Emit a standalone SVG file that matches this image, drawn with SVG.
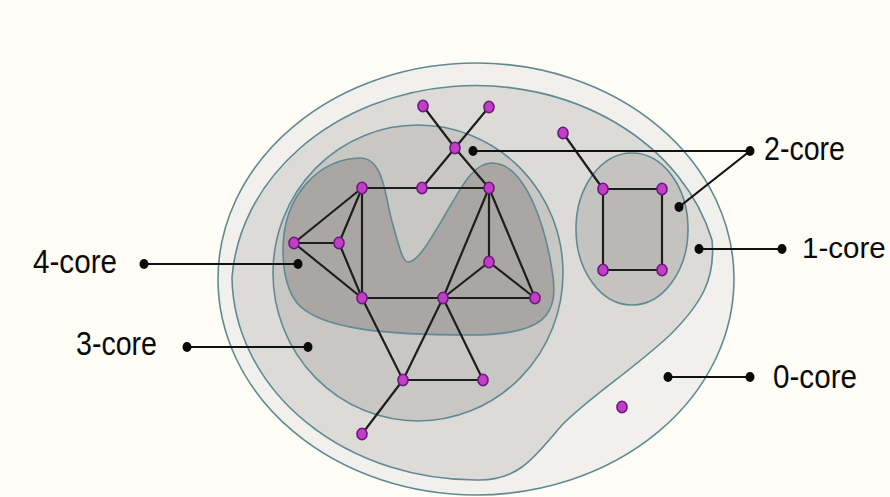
<svg xmlns="http://www.w3.org/2000/svg" width="890" height="497" viewBox="0 0 890 497">
<defs>
<style>
.region{stroke:#5f8a93;stroke-width:1.6}
.edge{stroke:#1e1e1e;stroke-width:2.2;fill:none;stroke-linecap:round}
.lead{stroke:#111;stroke-width:2.2;fill:none}
.dot{fill:#0a0a0a}
.node{fill:#c23ec4;stroke:#6b1b7d;stroke-width:1.6}
.lbl{font-family:"Liberation Sans",Arial,sans-serif;font-size:33px;fill:#0a0a0a}
</style>
</defs>
<rect width="890" height="497" fill="#fffdf5"/>
<g id="regions">
<ellipse class="region" cx="476" cy="279" rx="258" ry="216" fill="#f1f0ec"/>
<path id="core1" class="region" fill="#dcdbd8" d="M232,278 A244,205 0 0 1 712,240 C716,280 700,305 670,335 C630,372 592,395 562,425 C536,455 520,480 480,480 A244,205 0 0 1 232,278 Z"/>
<ellipse id="core3" class="region" cx="418" cy="273" rx="145" ry="148" fill="#c9c7c4"/>
<path id="core4" class="region" fill="#a9a6a3" d="M283,250 C283,195 320,158 360,158 C385,158 385,200 393,225 C400,250 403,262 408,262 C418,262 430,240 445,215 C460,190 472,163 492,163 C525,163 545,225 552,270 C560,315 545,335 470,335 C390,335 320,330 297,303 C287,290 283,272 283,250 Z"/>
<ellipse id="core2" class="region" cx="632" cy="229" rx="56" ry="76" fill="#c4c3c0"/>
<rect x="603" y="189" width="59" height="81" fill="#bab8b5"/>
</g>
<g id="connectors">
<line class="edge" x1="423" y1="106" x2="455" y2="148"/>
<line class="edge" x1="489" y1="107" x2="455" y2="148"/>
<line class="edge" x1="455" y1="148" x2="422" y2="188"/>
<line class="edge" x1="455" y1="148" x2="489" y2="188"/>
<line class="edge" x1="362" y1="188" x2="422" y2="188"/>
<line class="edge" x1="422" y1="188" x2="489" y2="188"/>
<line class="edge" x1="362" y1="188" x2="294" y2="243"/>
<line class="edge" x1="362" y1="188" x2="339" y2="243"/>
<line class="edge" x1="294" y1="243" x2="339" y2="243"/>
<line class="edge" x1="294" y1="243" x2="362" y2="298"/>
<line class="edge" x1="339" y1="243" x2="362" y2="298"/>
<line class="edge" x1="362" y1="188" x2="362" y2="298"/>
<line class="edge" x1="489" y1="188" x2="489" y2="262"/>
<line class="edge" x1="489" y1="188" x2="443" y2="298"/>
<line class="edge" x1="489" y1="188" x2="535" y2="298"/>
<line class="edge" x1="489" y1="262" x2="443" y2="298"/>
<line class="edge" x1="489" y1="262" x2="535" y2="298"/>
<line class="edge" x1="362" y1="298" x2="443" y2="298"/>
<line class="edge" x1="443" y1="298" x2="535" y2="298"/>
<line class="edge" x1="362" y1="298" x2="403" y2="380"/>
<line class="edge" x1="443" y1="298" x2="403" y2="380"/>
<line class="edge" x1="443" y1="298" x2="483" y2="380"/>
<line class="edge" x1="403" y1="380" x2="483" y2="380"/>
<line class="edge" x1="403" y1="380" x2="362" y2="434"/>
<line class="edge" x1="563" y1="133" x2="603" y2="189"/>
<line class="edge" x1="603" y1="189" x2="662" y2="189"/>
<line class="edge" x1="662" y1="189" x2="662" y2="270"/>
<line class="edge" x1="662" y1="270" x2="603" y2="270"/>
<line class="edge" x1="603" y1="270" x2="603" y2="189"/>
</g>
<g id="nodes">
<g id="nA"><ellipse class="node" cx="423" cy="106" rx="5" ry="5.8"/></g>
<g id="nB"><ellipse class="node" cx="489" cy="107" rx="5" ry="5.8"/></g>
<g id="nC"><ellipse class="node" cx="455" cy="148" rx="5" ry="5.8"/></g>
<g id="nD"><ellipse class="node" cx="362" cy="188" rx="5" ry="5.8"/></g>
<g id="nE"><ellipse class="node" cx="422" cy="188" rx="5" ry="5.8"/></g>
<g id="nF"><ellipse class="node" cx="489" cy="188" rx="5" ry="5.8"/></g>
<g id="nG"><ellipse class="node" cx="294" cy="243" rx="5" ry="5.8"/></g>
<g id="nH"><ellipse class="node" cx="339" cy="243" rx="5" ry="5.8"/></g>
<g id="nI"><ellipse class="node" cx="489" cy="262" rx="5" ry="5.8"/></g>
<g id="nJ"><ellipse class="node" cx="362" cy="298" rx="5" ry="5.8"/></g>
<g id="nK"><ellipse class="node" cx="443" cy="298" rx="5" ry="5.8"/></g>
<g id="nL"><ellipse class="node" cx="535" cy="298" rx="5" ry="5.8"/></g>
<g id="nM"><ellipse class="node" cx="403" cy="380" rx="5" ry="5.8"/></g>
<g id="nN"><ellipse class="node" cx="483" cy="380" rx="5" ry="5.8"/></g>
<g id="nO"><ellipse class="node" cx="362" cy="434" rx="5" ry="5.8"/></g>
<g id="nP"><ellipse class="node" cx="563" cy="133" rx="5" ry="5.8"/></g>
<g id="nQ1"><ellipse class="node" cx="603" cy="189" rx="5" ry="5.8"/></g>
<g id="nQ2"><ellipse class="node" cx="662" cy="189" rx="5" ry="5.8"/></g>
<g id="nQ3"><ellipse class="node" cx="603" cy="270" rx="5" ry="5.8"/></g>
<g id="nQ4"><ellipse class="node" cx="662" cy="270" rx="5" ry="5.8"/></g>
<g id="nZ"><ellipse class="node" cx="622" cy="407" rx="5" ry="5.8"/></g>
</g>
<g id="label-4core">
<line class="lead" x1="144" y1="264" x2="298" y2="264"/>
<ellipse class="dot" cx="144" cy="264" rx="4.5" ry="5"/>
<ellipse class="dot" cx="298" cy="264" rx="4.5" ry="5"/>
<text class="lbl" x="33" y="273" textLength="84" lengthAdjust="spacingAndGlyphs">4-core</text>
</g>
<g id="label-3core">
<line class="lead" x1="187" y1="347" x2="308" y2="347"/>
<ellipse class="dot" cx="187" cy="347" rx="4.5" ry="5"/>
<ellipse class="dot" cx="308" cy="347" rx="4.5" ry="5"/>
<text class="lbl" x="76" y="355" textLength="81" lengthAdjust="spacingAndGlyphs">3-core</text>
</g>
<g id="label-2core">
<line class="lead" x1="473" y1="151" x2="750" y2="151"/>
<line class="lead" x1="750" y1="151" x2="679" y2="207"/>
<ellipse class="dot" cx="473" cy="151" rx="4.5" ry="5"/>
<ellipse class="dot" cx="750" cy="151" rx="4.5" ry="5"/>
<ellipse class="dot" cx="679" cy="207" rx="4.5" ry="5"/>
<text class="lbl" x="764" y="160" textLength="81" lengthAdjust="spacingAndGlyphs">2-core</text>
</g>
<g id="label-1core">
<line class="lead" x1="699" y1="249" x2="782" y2="249"/>
<ellipse class="dot" cx="699" cy="249" rx="4.5" ry="5"/>
<ellipse class="dot" cx="782" cy="249" rx="4.5" ry="5"/>
<text class="lbl" x="802" y="258" font-size="29.5" style="font-size:29.5px">1-core</text>
</g>
<g id="label-0core">
<line class="lead" x1="668" y1="377" x2="750" y2="377"/>
<ellipse class="dot" cx="668" cy="377" rx="4.5" ry="5"/>
<ellipse class="dot" cx="750" cy="377" rx="4.5" ry="5"/>
<text class="lbl" x="773" y="388" textLength="84" lengthAdjust="spacingAndGlyphs">0-core</text>
</g>
</svg>
